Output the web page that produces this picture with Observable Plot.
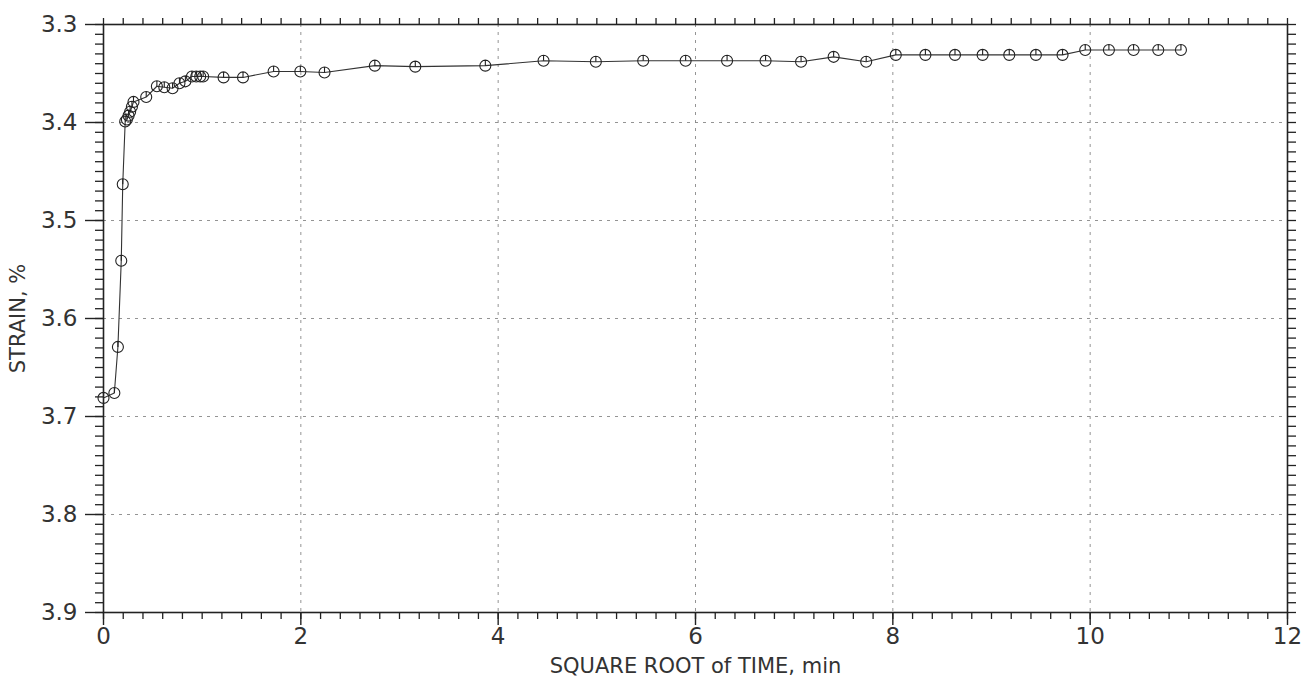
<!DOCTYPE html>
<html>
<head>
<meta charset="utf-8">
<script src="https://cdn.jsdelivr.net/npm/d3@7"></script>
<script src="https://cdn.jsdelivr.net/npm/@observablehq/plot@0.6"></script>
<style>
  html, body { margin: 0; padding: 0; background: #fff; }
</style>
</head>
<body>
<div id="chart"></div>
<script>
// Square root of time (min^0.5)
const sqrtTime = [0, 0.11, 0.146, 0.18, 0.195, 0.22, 0.237, 0.254, 0.27, 0.288, 0.304,
  0.433, 0.541, 0.616, 0.70, 0.77, 0.83, 0.896, 0.94, 0.98, 1.01, 1.217, 1.414, 1.724,
  1.995, 2.24, 2.75, 3.16, 3.87, 4.46, 4.99, 5.47, 5.9, 6.32, 6.71, 7.07, 7.40, 7.73,
  8.03, 8.33, 8.63, 8.91, 9.18, 9.45, 9.72, 9.95, 10.19, 10.44, 10.69, 10.92];
// Strain (%)
const strain = [3.681, 3.676, 3.629, 3.541, 3.463, 3.399, 3.397, 3.393, 3.389, 3.384, 3.379,
  3.374, 3.363, 3.364, 3.365, 3.360, 3.358, 3.353, 3.353, 3.353, 3.353, 3.354, 3.354, 3.348,
  3.348, 3.349, 3.342, 3.343, 3.342, 3.337, 3.338, 3.337, 3.337, 3.337, 3.337, 3.338, 3.333, 3.338,
  3.331, 3.331, 3.331, 3.331, 3.331, 3.331, 3.331, 3.326, 3.326, 3.326, 3.326, 3.326];

const xMajorTicks = [0, 2, 4, 6, 8, 10, 12];
const xMinorTicks = d3.range(0, 61).map(i => i / 5);
const yMajorTicks = [3.3, 3.4, 3.5, 3.6, 3.7, 3.8, 3.9];
const yMinorTicks = d3.range(0, 61).map(i => 3.3 + i / 100);
const xGridLines = [2, 4, 6, 8, 10];
const yGridLines = [3.4, 3.5, 3.6, 3.7, 3.8];

const xLabel = "SQUARE ROOT of TIME, min";
const yLabel = "STRAIN, %";

const data = sqrtTime.map((t, i) => ({t, s: strain[i]}));

// circle with a short vertical stroke from centre to top
const markerSymbol = {
  draw(context, size) {
    const r = Math.sqrt(size / Math.PI);
    context.moveTo(r, 0);
    context.arc(0, 0, r, 0, 2 * Math.PI);
    context.moveTo(0, 0);
    context.lineTo(0, -r);
  }
};

const ink = "#222";
const blank = () => "";

const chart = Plot.plot({
  width: 1313,
  height: 692,
  marginLeft: 103,
  marginRight: 26,
  marginTop: 24,
  marginBottom: 80,
  x: {domain: [0, 12]},
  y: {domain: [3.3, 3.9], reverse: true},
  style: {fontFamily: "'DejaVu Sans', sans-serif", fontSize: "22px", color: ink, background: "#fff"},
  marks: [
    Plot.gridX(xGridLines, {stroke: "#888", strokeOpacity: 1, strokeWidth: 0.9, strokeDasharray: "3,5"}),
    Plot.gridY(yGridLines, {stroke: "#888", strokeOpacity: 1, strokeWidth: 0.9, strokeDasharray: "3,5"}),
    // minor ticks, all four sides
    Plot.axisX(xMinorTicks, {anchor: "bottom", tickSize: 7, tickFormat: blank, label: null, stroke: ink, strokeWidth: 1.3}),
    Plot.axisX(xMinorTicks, {anchor: "top", tickSize: 7, tickFormat: blank, label: null, stroke: ink, strokeWidth: 1.3}),
    Plot.axisY(yMinorTicks, {anchor: "left", tickSize: 8, tickFormat: blank, label: null, stroke: ink, strokeWidth: 1.3}),
    Plot.axisY(yMinorTicks, {anchor: "right", tickSize: 8, tickFormat: blank, label: null, stroke: ink, strokeWidth: 1.3}),
    // major ticks with labels
    Plot.axisX(xMajorTicks, {anchor: "bottom", tickSize: 13, tickPadding: 2, tickFormat: d => String(d),
      fontSize: 23, label: null, stroke: ink, strokeWidth: 1.4, fill: "#333"}),
    Plot.axisX(xMajorTicks, {anchor: "bottom", tickSize: 0, tickFormat: blank, fontSize: 21,
      label: xLabel, labelAnchor: "center", labelOffset: 60, labelArrow: "none", fill: "#333"}),
    Plot.axisY(yMajorTicks, {anchor: "left", tickSize: 18, tickPadding: 8, tickFormat: d => d.toFixed(1),
      fontSize: 23, label: null, stroke: ink, strokeWidth: 1.4, fill: "#333"}),
    Plot.axisY(yMajorTicks, {anchor: "left", tickSize: 0, tickFormat: blank, fontSize: 21,
      label: yLabel, labelAnchor: "center", labelOffset: 93, labelArrow: "none", fill: "#333"}),
    Plot.frame({stroke: ink, strokeWidth: 1.6}),
    Plot.line(data, {x: "t", y: "s", stroke: "#333", strokeWidth: 1.1}),
    Plot.dot(data, {x: "t", y: "s", r: 5.5, symbol: markerSymbol, stroke: ink, strokeWidth: 1.1, fill: "none"})
  ]
});
document.getElementById("chart").appendChild(chart);
</script>
</body>
</html>
